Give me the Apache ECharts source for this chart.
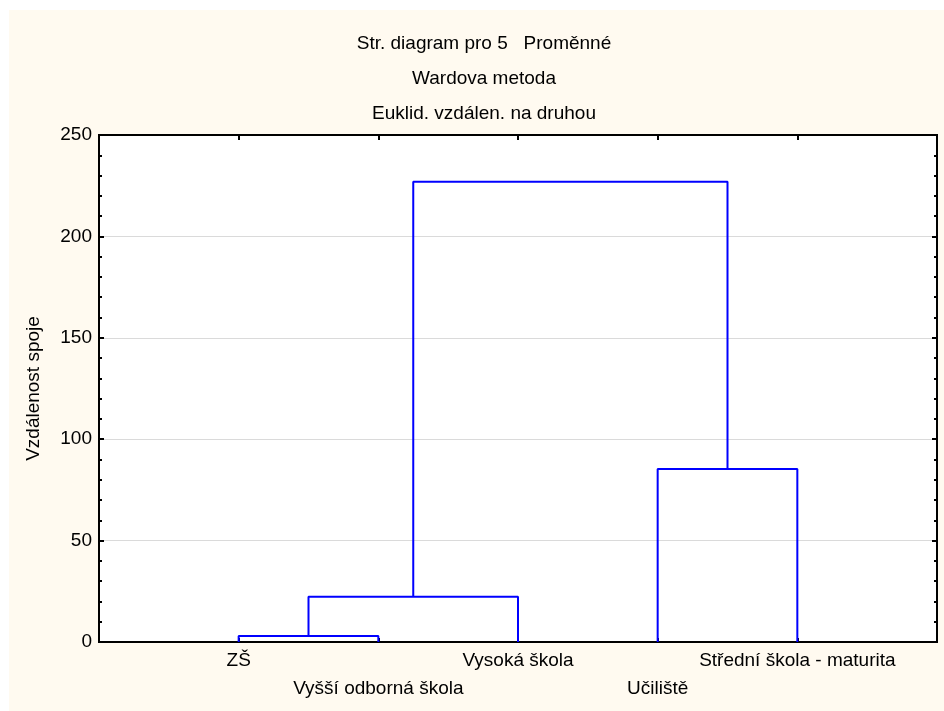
<!DOCTYPE html>
<html>
<head>
<meta charset="utf-8">
<script src="https://cdn.jsdelivr.net/npm/echarts@6/dist/echarts.min.js"></script>
<style>html,body{margin:0;padding:0;background:#fff}#c{width:944px;height:711px}</style>
</head>
<body>
<div id="c"></div>
<script>
// ---- data ----
const titles = ['Str. diagram pro 5   Proměnné', 'Wardova metoda', 'Euklid. vzdálen. na druhou'];
const leaves = ['ZŠ', 'Vyšší odborná škola', 'Vysoká škola', 'Učiliště', 'Střední škola - maturita'];
const leafPos = [1, 2, 3, 4, 5];
// merges: node ids 0..4 are leaves, 5.. are clusters in merge order
const mergeLeft = [0, 5, 3, 6];
const mergeRight = [1, 2, 4, 7];
const mergeHeight = [3, 22.3, 85.3, 227];
const yTicks = [0, 50, 100, 150, 200, 250];
const yAxisName = 'Vzdálenost spoje';

// ---- build dendrogram paths ----
const nodeX = leafPos.slice();
const nodeH = leafPos.map(() => 0);
const series = [];
for (let i = 0; i < mergeHeight.length; i++) {
  const l = mergeLeft[i], r = mergeRight[i], h = mergeHeight[i];
  series.push({
    type: 'line', silent: true, symbol: 'none', animation: false,
    lineStyle: { color: '#0000ff', width: 2 },
    data: [[nodeX[l], nodeH[l]], [nodeX[l], h], [nodeX[r], h], [nodeX[r], nodeH[r]]]
  });
  nodeX.push((nodeX[l] + nodeX[r]) / 2);
  nodeH.push(h);
}

const font = 'Liberation Sans, Arial, sans-serif';
const chart = echarts.init(document.getElementById('c'));
const titleCenters = [42, 77, 112];
const line = { show: true, onZero: false, lineStyle: { color: '#000', width: 2 } };
const tick = (len) => ({ show: true, inside: true, length: len, lineStyle: { color: '#000', width: 2 } });
chart.setOption({
  backgroundColor: '#ffffff',
  animation: false,
  graphic: [{
    type: 'rect', z: -10, silent: true,
    shape: { x: 9, y: 10, width: 940, height: 710 },
    style: { fill: '#fffaf0' }
  }],
  title: titles.map((t, i) => ({
    text: t, left: 484, textAlign: 'center', top: titleCenters[i] - 8, padding: 0,
    textStyle: { fontFamily: font, fontSize: 19, fontWeight: 'normal', color: '#000' }
  })),
  grid: { left: 99, right: 7, top: 135, bottom: 69, show: true, backgroundColor: '#ffffff', borderColor: '#000', borderWidth: 2 },
  xAxis: [{
    type: 'value', position: 'bottom', min: 0, max: 6, interval: 1,
    axisLine: line,
    axisTick: tick(4),
    splitLine: { show: false },
    axisLabel: {
      color: '#000', fontFamily: font, fontSize: 19, lineHeight: 28, margin: 5,
      formatter: v => {
        const i = Math.round(v) - 1;
        if (i < 0 || i >= leaves.length) return '';
        return (i % 2 ? '\n' : '') + leaves[i];
      }
    }
  }, {
    type: 'value', position: 'top', min: 0, max: 6, interval: 1,
    axisLine: line,
    axisTick: tick(5),
    splitLine: { show: false },
    axisLabel: { show: false }
  }],
  yAxis: [{
    type: 'value', position: 'left', min: yTicks[0], max: yTicks[yTicks.length - 1], interval: 50,
    name: yAxisName, nameLocation: 'middle', nameGap: 56,
    nameTextStyle: { color: '#000', fontFamily: font, fontSize: 19 },
    axisLine: line,
    axisTick: tick(5),
    minorTick: { show: true, splitNumber: 5, length: 3, lineStyle: { color: '#000', width: 2 } },
    splitLine: { show: true, lineStyle: { color: '#dadada', width: 1 } },
    axisLabel: { color: '#000', fontFamily: font, fontSize: 19, margin: 7 }
  }, {
    type: 'value', position: 'right', min: yTicks[0], max: yTicks[yTicks.length - 1], interval: 50,
    axisLine: line,
    axisTick: tick(5),
    minorTick: { show: true, splitNumber: 5, length: 3, lineStyle: { color: '#000', width: 2 } },
    splitLine: { show: false },
    axisLabel: { show: false }
  }],
  series: series
});
</script>
</body>
</html>
